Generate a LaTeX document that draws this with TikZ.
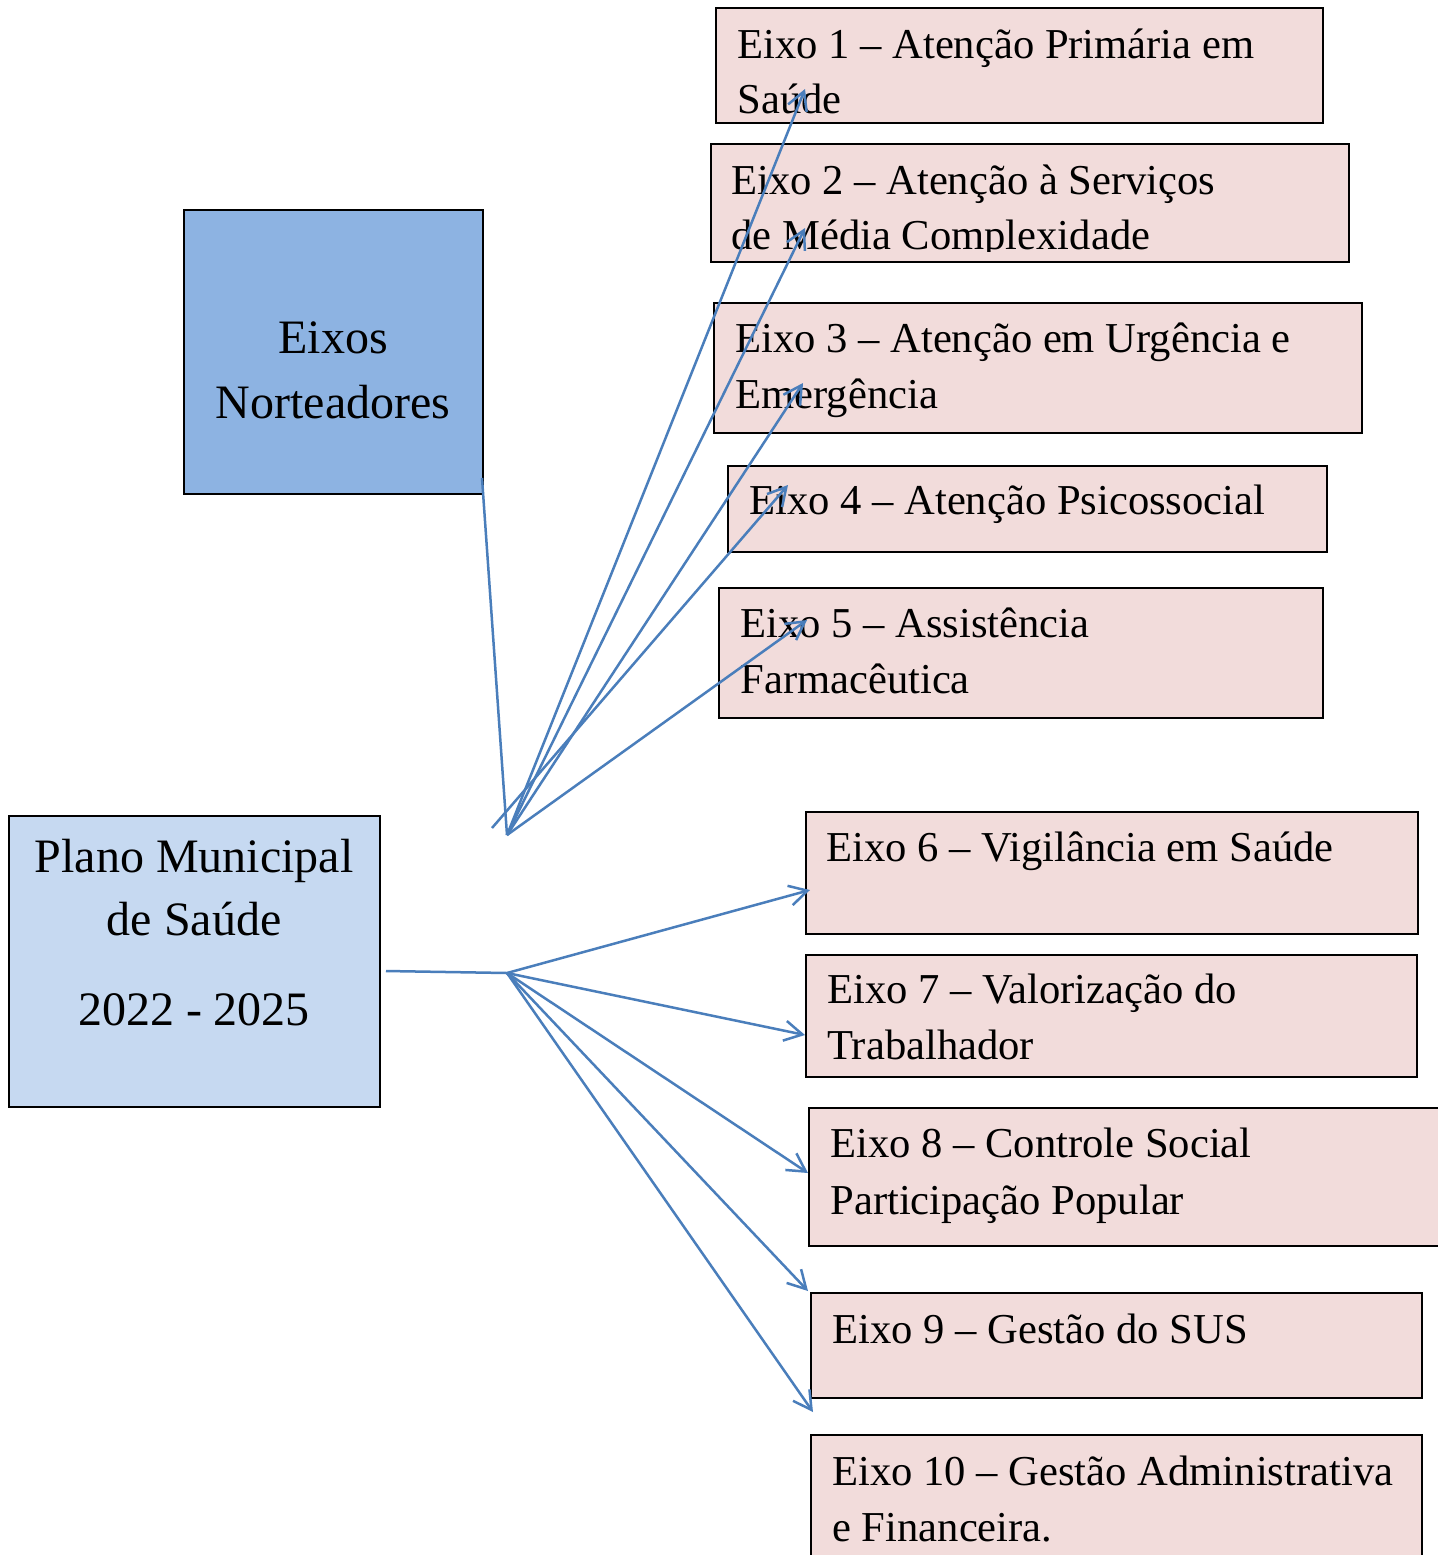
\documentclass[tikz,border=0pt]{standalone}
\usepackage{fontspec}
\setmainfont{Liberation Serif}
\usetikzlibrary{arrows.meta,fit}
\definecolor{pinkbox}{HTML}{F2DCDB}
\definecolor{darkblue}{HTML}{8DB3E2}
\definecolor{lightblue}{HTML}{C6D9F1}
\definecolor{linecol}{HTML}{4A7EBB}
\begin{document}
\begin{tikzpicture}[x=0.5pt,y=-0.5pt,
  eixobox/.style={draw=black, line width=1.1pt, fill=pinkbox, inner sep=0pt},
  headbox/.style={draw=black, line width=1.1pt, inner sep=0pt},
  txt/.style={inner sep=0pt, anchor=base west, font=\fontsize{21.3pt}{28pt}\selectfont},
  bigtxt/.style={inner sep=0pt, anchor=base, font=\fontsize{24pt}{32pt}\selectfont},
  conn/.style={draw=linecol, line width=1.25pt},
  arr/.style={conn, -{Straight Barb[length=9pt,width=10pt,line width=1.25pt]}}]
\useasboundingbox (0,0) rectangle (1438,1555);
\fill[white] (0,0) rectangle (1438,1555);

% left boxes
\node[headbox, fill=darkblue, fit={(184,210) (483,494)}] (nort) {};
\node[bigtxt] (nortA) at (333,353) {Eixos};
\node[bigtxt] (nortB) at (333,418) {Norteadores};

\node[headbox, fill=lightblue, fit={(9,816) (380,1107)}] (plano) {};
\node[bigtxt] (planoA) at (194,872) {Plano Municipal};
\node[bigtxt] (planoB) at (194,935) {de Saúde};
\node[bigtxt] (planoC) at (194,1025) {2022 - 2025};

% eixo boxes
\node[eixobox, fit={(716,8) (1323,123)}] (e1) {};
\node[eixobox, fit={(711,144) (1349,262)}] (e2) {};
\node[eixobox, fit={(714,303) (1362,433)}] (e3) {};
\node[eixobox, fit={(728,466) (1327,552)}] (e4) {};
\node[eixobox, fit={(719,588) (1323,718)}] (e5) {};
\node[eixobox, fit={(806,812) (1418,934)}] (e6) {};
\node[eixobox, fit={(806,955) (1417,1077)}] (e7) {};
\node[eixobox, fit={(809,1108) (1460,1246)}] (e8) {};
\node[eixobox, fit={(811,1293) (1422,1398)}] (e9) {};
\node[eixobox, fit={(811,1435) (1422,1580)}] (e10) {};

% eixo texts
\node[txt] (e1a) at (737,58) {Eixo 1 – Atenção Primária em};
\node[txt] (e1b) at (737,113) {Saúde};
\begin{scope}
\clip (700,140) rectangle (1360,251);
\node[txt] (e2a) at (731,194) {Eixo 2 – Atenção à Serviços};
\node[txt] (e2b) at (731,249) {de Média Complexidade};
\end{scope}
\node[txt] (e3a) at (735,352) {Eixo 3 – Atenção em Urgência e};
\node[txt] (e3b) at (735,408) {Emergência};
\node[txt] (e4a) at (749,514) {Eixo 4 – Atenção Psicossocial};
\node[txt] (e5a) at (740,637) {Eixo 5 – Assistência};
\node[txt] (e5b) at (740,693) {Farmacêutica};
\node[txt] (e6a) at (826,861) {Eixo 6 – Vigilância em Saúde};
\node[txt] (e7a) at (827,1003) {Eixo 7 – Valorização do};
\node[txt] (e7b) at (827,1059) {Trabalhador};
\node[txt] (e8a) at (830,1157) {Eixo 8 – Controle Social};
\node[txt] (e8b) at (830,1214) {Participação Popular};
\node[txt] (e9a) at (832,1343) {Eixo 9 – Gestão do SUS};
\node[txt] (e10a) at (832,1485) {Eixo 10 – Gestão Administrativa};
\node[txt] (e10b) at (832,1541) {e Financeira.};

% hubs and arrow tips
\coordinate (nortOut) at (482,478);
\coordinate (hubA) at (507,835);
\coordinate (hubA2) at (492,828);
\coordinate (planoOut) at (386,971);
\coordinate (hubB) at (507,973);
\coordinate (t1) at (805,89);
\coordinate (t2) at (805,228);
\coordinate (t3) at (803,383);
\coordinate (t4) at (788,485);
\coordinate (t5) at (807,620);
\coordinate (t6) at (810,890);
\coordinate (t7) at (805,1035);
\coordinate (t8) at (808,1173);
\coordinate (t9) at (808,1291);
\coordinate (t10) at (813,1412);

% connectors
\draw[conn] (nortOut) -- (hubA);
\draw[arr] (hubA) -- (t1);
\draw[arr] (hubA) -- (t2);
\draw[arr] (hubA) -- (t3);
\draw[arr] (hubA2) -- (t4);
\draw[arr] (hubA) -- (t5);
\draw[conn] (planoOut) -- (hubB);
\draw[arr] (hubB) -- (t6);
\draw[arr] (hubB) -- (t7);
\draw[arr] (hubB) -- (t8);
\draw[arr] (hubB) -- (t9);
\draw[arr] (hubB) -- (t10);
\end{tikzpicture}
\end{document}
